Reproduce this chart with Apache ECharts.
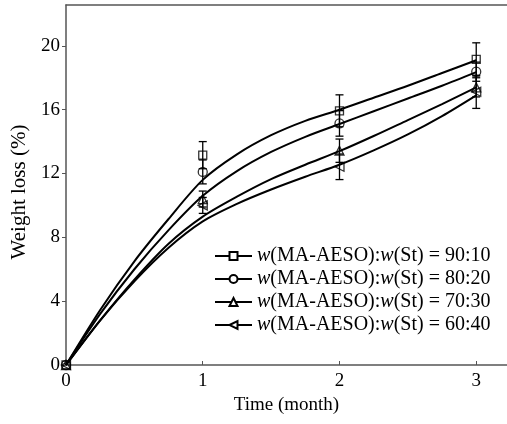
<!DOCTYPE html>
<html>
<head>
  <meta charset="utf-8">
  <title>Weight loss</title>
</head>
<body style="margin: 0">
  <div id="container" style="width: 507px; height: 424px;"></div>
  <script src="https://cdn.jsdelivr.net/npm/echarts@6/dist/echarts.min.js"></script>
  <script>
    // measured points (month, weight loss %, error)
    var months = [0, 1, 2, 3];
    var ratios = ['90:10', '80:20', '70:30', '60:40'];
    var w90 = [0, 13.15, 15.93, 19.15];
    var w80 = [0, 12.1, 15.14, 18.38];
    var w70 = [0, 10.4, 13.43, 17.4];
    var w60 = [0, 10.0, 12.42, 17.12];
    var err90 = [0, 0.85, 1.0, 1.04];
    var err80 = [0, 0.75, 0.8, 0.6];
    var err70 = [0, 0.5, 0.73, 0.6];
    var err60 = [0, 0.5, 0.8, 1.04];

    // fitted curves
    var fitX = [0, 0.25, 0.5, 0.75, 1, 1.25, 1.5, 1.75, 2, 2.25, 2.5, 2.75, 3];
    var fit90 = [0, 3.45, 6.5, 9.15, 11.6, 13.2, 14.4, 15.3, 16.0, 16.75, 17.5, 18.3, 19.1];
    var fit80 = [0, 3.2, 6.0, 8.45, 10.6, 12.15, 13.35, 14.3, 15.1, 15.9, 16.7, 17.5, 18.35];
    var fit70 = [0, 2.8, 5.35, 7.6, 9.3, 10.55, 11.65, 12.55, 13.4, 14.35, 15.35, 16.35, 17.4];
    var fit60 = [0, 2.8, 5.25, 7.35, 9.0, 10.1, 11.0, 11.8, 12.55, 13.45, 14.45, 15.6, 16.9];

    var yTicks = [0, 4, 8, 12, 16, 20];
    var xTicks = [0, 1, 2, 3];

    var font = 'Liberation Serif';
    var symbols = ['rect', 'circle', 'triangle', 'path://M0,5L10,0L10,10Z'];
    var pts = [w90, w80, w70, w60];
    var errs = [err90, err80, err70, err60];
    var fits = [fit90, fit80, fit70, fit60];

    var myChart = echarts.init(document.getElementById('container'), null, { renderer: 'canvas' });

    function pairs(xs, ys) {
      return xs.map(function (x, i) { return [x, ys[i]]; });
    }

    var series = [];
    // curves (also carry the legend icon)
    for (var k = 0; k < 4; k++) {
      series.push({
        name: ratios[k],
        type: 'line',
        smooth: 0.3,
        data: pairs(fitX, fits[k]),
        showSymbol: false,
        symbol: symbols[k],
        symbolSize: 8,
        lineStyle: { color: '#000', width: 2 },
        itemStyle: { color: '#fff', borderColor: '#000', borderWidth: 1.3 },
        z: 2
      });
    }
    // error bars
    for (var k = 0; k < 4; k++) {
      series.push({
        name: 'err' + k,
        type: 'custom',
        data: months.map(function (m, i) { return [m, pts[k][i], errs[k][i]]; }),
        renderItem: function (params, api) {
          var x = api.value(0), y = api.value(1), e = api.value(2);
          if (!e) return;
          var lo = api.coord([x, y - e]);
          var hi = api.coord([x, y + e]);
          var st = { stroke: '#000', lineWidth: 1.3 };
          return {
            type: 'group',
            children: [
              { type: 'line', shape: { x1: lo[0], y1: lo[1], x2: hi[0], y2: hi[1] }, style: st },
              { type: 'line', shape: { x1: lo[0] - 4, y1: lo[1], x2: lo[0] + 4, y2: lo[1] }, style: st },
              { type: 'line', shape: { x1: hi[0] - 4, y1: hi[1], x2: hi[0] + 4, y2: hi[1] }, style: st }
            ]
          };
        },
        z: 3
      });
    }
    // markers
    for (var k = 0; k < 4; k++) {
      series.push({
        name: 'pt' + k,
        type: 'scatter',
        data: pairs(months, pts[k]),
        symbol: symbols[k],
        symbolSize: k === 0 ? 8 : 9,
        itemStyle: { color: 'rgba(0,0,0,0)', borderColor: '#000', borderWidth: 1.3 },
        z: 4
      });
    }

    var option = {
      animation: false,
      grid: { left: 66, right: 0, top: 5, bottom: 59 },
      legend: {
        data: ratios,
        orient: 'vertical',
        left: 209,
        top: 241,
        itemWidth: 37,
        itemHeight: 10,
        itemGap: 3,
        formatter: function (name) {
          return '{i|w}(MA-AESO):{i|w}(St) = ' + name;
        },
        textStyle: {
          fontFamily: font,
          fontSize: 20,
          color: '#000',
          rich: { i: { fontFamily: font, fontSize: 20, fontStyle: 'italic', color: '#000' } }
        }
      },
      xAxis: [{
        type: 'value',
        min: 0,
        max: 3.225,
        interval: 1,
        name: 'Time (month)',
        nameLocation: 'middle',
        nameGap: 31,
        nameTextStyle: { fontFamily: font, fontSize: 19, color: '#000' },
        axisLine: { lineStyle: { color: '#555', width: 1.5 } },
        axisTick: { inside: true, length: 4, lineStyle: { color: '#555' } },
        axisLabel: {
          fontFamily: font, fontSize: 19, color: '#000', margin: 7,
          showMaxLabel: false,
          formatter: function (v) { return xTicks.indexOf(v) >= 0 ? String(v) : ''; }
        },
        splitLine: { show: false }
      }, {
        type: 'value',
        position: 'top',
        min: 0,
        max: 3.225,
        axisLine: { show: true, lineStyle: { color: '#555', width: 1.5 } },
        axisTick: { show: false },
        axisLabel: { show: false },
        splitLine: { show: false }
      }],
      yAxis: {
        type: 'value',
        min: 0,
        max: 22.56,
        interval: 4,
        name: 'Weight loss (%)',
        nameLocation: 'middle',
        nameGap: 36,
        nameTextStyle: { fontFamily: font, fontSize: 21, color: '#000', padding: [0, 14, 0, 0] },
        axisLine: { show: true, lineStyle: { color: '#555', width: 1.5 } },
        axisTick: { inside: false, length: 4, lineStyle: { color: '#555' } },
        axisLabel: {
          fontFamily: font, fontSize: 19, color: '#000', margin: 6,
          showMaxLabel: false,
          formatter: function (v) { return yTicks.indexOf(v) >= 0 ? String(v) : ''; }
        },
        splitLine: { show: false }
      },
      series: series
    };

    myChart.setOption(option);
  </script>
</body>
</html>
